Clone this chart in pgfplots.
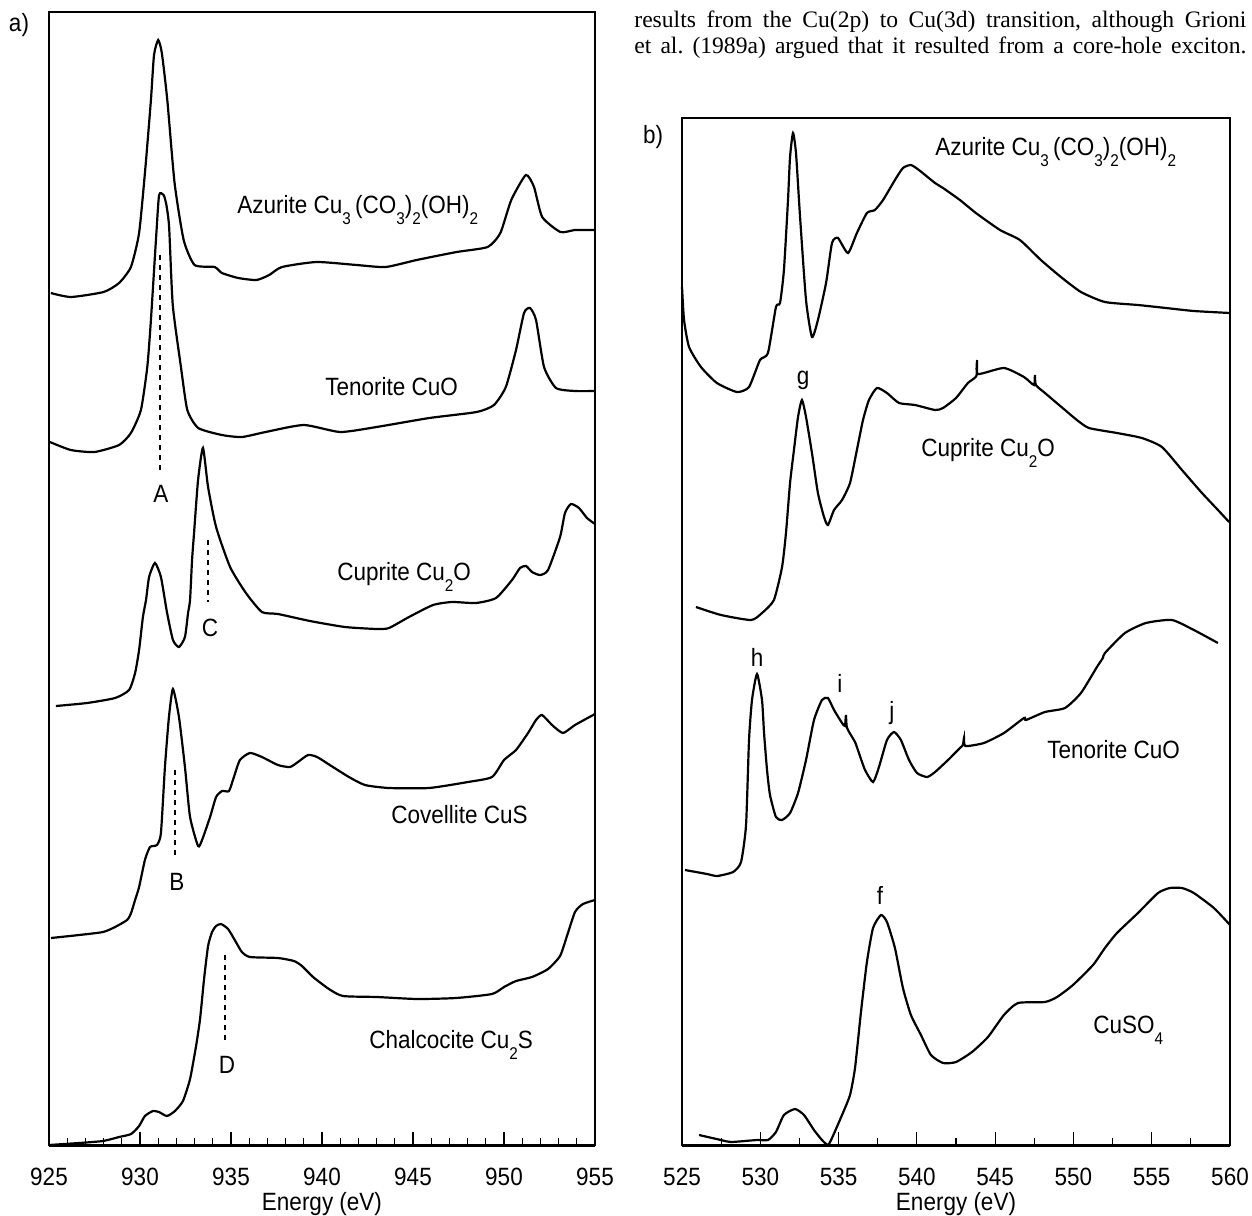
\documentclass[border=0pt]{standalone}
\usepackage{pgfplots}
\pgfplotsset{compat=1.18}
\usepackage{fontspec}
\setmainfont{Liberation Sans}[FakeStretch=0.9]
\newfontfamily\bodyfont{Liberation Serif}
\newcommand{\sub}[1]{\raisebox{-5.5pt}{\fontsize{8.5}{8.5}\selectfont #1}}
\tikzset{
  dotl/.style={black, line width=0.7pt, dash pattern=on 2.5pt off 2.5pt},
  lab/.style={anchor=base west, inner sep=0pt},
}
\pgfplotsset{
  spec/.style={black, line width=1.1pt, smooth, tension=0.35, mark=none},
  common/.style={
    scale only axis, anchor=south west, clip=false,
    ytick=\empty, tick align=inside, xtick pos=bottom,
    major tick length=6.5pt, minor tick length=3.5pt,
    tick style={line width=0.6pt, black},
    axis line style={line width=0.75pt},
    /pgf/number format/assume math mode=true,
    /pgf/number format/set thousands separator={},
    xticklabel style={anchor=base, yshift=-20pt},
    xlabel={Energy (eV)},
    xlabel style={at={(axis description cs:0.5,0)}, anchor=base, yshift=-32.5pt},
  },
}
\begin{document}
\fontsize{12.5}{15}\selectfont
\begin{tikzpicture}
\path[use as bounding box] (0pt,0pt) rectangle (626pt,-607.5pt);
\node at (9.5pt,-12.5pt) {a)};
\node at (326.5pt,-68.5pt) {b)};
\node[anchor=base west, inner sep=0pt] at (317pt,-13.5pt) {\bodyfont\fontsize{11.8}{13}\selectfont\frenchspacing\makebox[306pt][s]{results from the Cu(2p) to Cu(3d) transition, although Grioni}};
\node[anchor=base west, inner sep=0pt] at (317pt,-26.5pt) {\bodyfont\fontsize{11.8}{13}\selectfont\frenchspacing\makebox[306pt][s]{et al. (1989a) argued that it resulted from a core-hole exciton.}};

% ---------------- panel a ----------------
\begin{axis}[common, at={(24.5pt,-572.5pt)}, width=273pt, height=566.5pt,
  xmin=925, xmax=955, ymin=25, ymax=1158,
  xtick={925,930,...,955}, minor x tick num=4]
\addplot[spec] table {
925.1 877
926.2 873
928.0 878
928.85 887
929.5 903
929.95 937
930.3 1003
930.6 1070
930.77 1115
931.0 1130
931.2 1117
931.5 1070
931.9 987
932.4 930
933.0 905
934.1 903
934.5 897
935.4 892
936.4 890
937.1 895
937.8 903
939.7 908
941.9 905
943.5 903
945.2 910
947.4 918
949.1 923
949.8 937
950.4 970
951.2 995
951.65 983
952.1 953
953.1 938
953.9 940
955.0 940
};
\addplot[spec] table {
925.05 728
926.2 720
927.5 718
928.85 725
929.5 737
930.05 760
930.4 803
930.6 850
930.9 937
931.05 975
931.3 975
931.45 965
931.6 943
931.8 865
932.25 803
932.6 760
933.2 742
934.5 735
935.6 733
936.9 738
939.0 745
941.0 738
943.0 743
945.9 752
948.5 758
949.45 765
950.1 783
950.66 820
951.1 857
951.43 862
951.76 850
952.2 803
952.86 782
953.9 779
955.0 779
};
\addplot[spec] table {
925.38 464
927.09 467
928.63 472
929.4 480
929.73 497
929.95 520
930.16 553
930.33 570
930.5 593
930.82 607
931.15 593
931.48 558
931.81 530
932.14 523
932.47 533
932.64 557
932.75 570
932.86 610
932.97 637
933.19 690
933.46 722
933.74 683
934.18 643
934.95 603
935.82 577
936.7 558
937.58 556
939.34 549
941.26 543
943.02 541
943.68 542
944.78 553
946.1 565
947.14 568
948.46 567
949.56 572
950.44 590
950.88 602
951.21 604
951.54 598
951.98 595
952.42 600
953.08 633
953.35 657
953.68 666
954.12 662
954.56 652
955.0 646
};
\addplot[spec] table {
925.11 232
926.65 235
927.97 238
928.63 243
929.29 250
929.51 257
929.73 270
929.95 283
930.27 310
930.55 323
930.93 325
931.15 337
931.37 403
931.59 453
931.81 481
932.14 453
932.47 403
932.75 353
933.19 324
933.41 330
933.85 353
934.18 373
934.51 379
934.89 379
935.16 393
935.49 410
936.04 417
936.7 413
937.58 405
938.24 403
938.68 408
939.23 415
939.73 413
940.6 403
941.48 393
942.36 385
943.68 382
945.88 382
948.02 388
949.34 393
950.0 410
950.66 420
951.32 437
951.76 450
952.09 455
952.64 445
953.24 437
953.9 445
955.0 456
};
\addplot[spec] table {
925.0 25
926.65 27
927.97 29
928.85 33
929.51 36
929.95 44
930.27 54
930.71 59
931.04 58
931.48 54
931.92 59
932.36 69
932.75 91
933.08 124
933.3 151
933.52 191
933.74 224
933.96 238
934.18 244
934.45 246
934.84 241
935.27 228
935.6 218
936.04 213
937.58 212
938.46 209
938.9 204
939.51 193
940.38 181
941.15 174
943.02 173
945.22 171
947.36 172
949.34 176
950.0 183
950.66 189
951.54 193
952.42 201
953.08 214
953.46 234
953.9 258
954.34 266
955.0 270
};
\draw[dotl] (axis cs:931.1,915) -- (axis cs:931.1,700);
\draw[dotl] (axis cs:933.74,630) -- (axis cs:933.74,568);
\draw[dotl] (axis cs:931.92,400) -- (axis cs:931.92,315);
\draw[dotl] (axis cs:934.67,215) -- (axis cs:934.67,130);
\node at (axis cs:931.15,676) {A};
\node at (axis cs:933.85,542) {C};
\node at (axis cs:932.03,288) {B};
\node at (axis cs:934.78,105) {D};
\node[lab] at (axis cs:935.33,957) {Azurite Cu\sub{3}\,(CO\sub{3})\sub{2}(OH)\sub{2}};
\node[lab] at (axis cs:940.16,775) {Tenorite CuO};
\node[lab] at (axis cs:940.82,590) {Cuprite Cu\sub{2}O};
\node[lab] at (axis cs:943.79,347) {Covellite CuS};
\node[lab] at (axis cs:942.58,122) {Chalcocite Cu\sub{2}S};
\draw[line width=1.5pt] (rel axis cs:0,0) -- (rel axis cs:1,0);
\end{axis}

% ---------------- panel b ----------------
\begin{axis}[common, at={(341pt,-572.5pt)}, width=274pt, height=513.5pt,
  xmin=525, xmax=560, ymin=25, ymax=1052,
  xtick={525,530,...,560}, minor x tick num=1]
\addplot[spec] table {
525.0 883
525.13 850
525.45 823
526.21 803
527.23 787
528.51 778
529.28 783
529.98 810
530.49 817
531.0 863
531.26 867
531.51 900
531.77 970
531.9 1013
532.09 1037
532.28 1017
532.54 953
532.92 870
533.3 833
533.68 850
534.2 887
534.58 927
534.96 932
535.6 917
536.17 937
536.81 957
537.32 960
537.84 970
538.6 990
539.11 1002
539.62 1005
540.13 1000
541.16 987
541.67 982
542.75 970
543.77 957
545.31 940
546.58 930
547.92 910
549.2 893
550.48 878
552.01 868
554.12 865
555.91 862
557.69 859
560.0 857
};
\addplot[spec] table {
525.89 563
527.49 555
529.41 550
530.11 557
530.87 570
531.39 603
531.64 637
531.9 687
532.15 720
532.41 753
532.66 770
532.92 753
533.3 717
533.68 677
534.07 653
534.32 645
534.71 660
535.22 670
535.73 687
536.17 720
536.56 750
536.94 770
537.45 782
538.09 777
538.86 767
539.88 765
541.16 760
541.67 762
542.5 772
543.26 787
543.8 794
543.85 810
543.9 796
545.56 802
546.84 793
547.48 785
547.54 795
547.6 785
548.18 777
549.46 760
550.22 750
550.99 742
552.78 737
554.37 732
555.65 723
556.93 700
558.21 677
559.23 660
559.94 648
};
\addplot[spec] table {
525.19 300
526.6 296
527.24 294
528.26 298
528.77 308
529.09 345
529.28 430
529.47 470
529.79 496
530.11 470
530.24 437
530.43 400
530.62 375
531.0 353
531.39 350
531.9 357
532.41 377
532.92 410
533.43 450
533.94 470
534.32 472
534.71 460
535.22 447
535.41 444
535.47 455
535.54 442
536.05 428
536.3 417
536.69 400
537.2 388
537.58 403
538.09 430
538.54 438
538.98 430
539.5 410
540.01 397
540.65 393
541.16 398
541.99 410
542.75 422
542.94 425
543.01 432
543.1 424
544.28 427
545.56 437
546.84 452
546.97 450
548.18 458
549.46 462
550.48 477
551.5 503
551.88 512
552.01 517
553.29 537
554.63 547
556.29 550
557.69 540
559.23 527
};
\addplot[spec] table {
526.09 35
527.49 30
528.13 28
529.79 30
530.49 30
531.0 38
531.51 55
532.22 61
532.79 55
533.43 40
533.94 30
534.32 25
534.58 32
535.22 55
535.73 75
536.05 102
536.43 158
536.81 208
537.2 242
537.71 255
538.09 248
538.6 222
539.11 182
539.62 155
540.26 135
540.9 115
541.67 107
542.5 108
543.52 118
544.54 133
545.56 155
546.46 167
548.18 168
548.95 173
549.97 185
551.25 205
552.01 222
552.78 237
554.12 257
555.4 277
556.16 282
556.93 282
557.69 277
558.97 262
560.0 245
};
\node at (axis cs:532.73,790) {g};
\node at (axis cs:529.79,513) {h};
\node at (axis cs:535.09,487) {i};
\node at (axis cs:538.41,457) {j};
\node at (axis cs:537.64,275) {f};
\node[lab] at (axis cs:541.16,1015) {Azurite Cu\sub{3}\,(CO\sub{3})\sub{2}(OH)\sub{2}};
\node[lab] at (axis cs:540.26,714) {Cuprite Cu\sub{2}O};
\node[lab] at (axis cs:548.31,412) {Tenorite CuO};
\node[lab] at (axis cs:551.25,137) {CuSO\sub{4}};
\draw[line width=1.5pt] (rel axis cs:0,0) -- (rel axis cs:1,0);
\end{axis}
\end{tikzpicture}
\end{document}
